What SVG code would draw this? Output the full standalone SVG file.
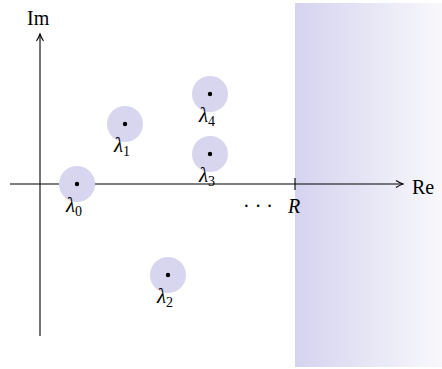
<svg xmlns="http://www.w3.org/2000/svg" width="442" height="369" viewBox="0 0 442 369">
<defs>
<linearGradient id="g" x1="0" y1="0" x2="1" y2="0">
<stop offset="0" stop-color="#d5d3ef"/>
<stop offset="1" stop-color="#f8f8fc"/>
</linearGradient>
<marker id="arr" markerWidth="10" markerHeight="10" refX="8" refY="5" orient="auto" markerUnits="userSpaceOnUse">
<path d="M1,1.5 Q5,4 8,5 Q5,6 1,8.5" fill="none" stroke="#000" stroke-width="1.1"/>
</marker>
</defs>
<rect x="295" y="3" width="147" height="364" fill="url(#g)"/>
<g id="connectors">
<line x1="10" y1="184" x2="403" y2="184" stroke="#000" stroke-width="1.1" marker-end="url(#arr)"/>
<line x1="40" y1="336" x2="40" y2="34" stroke="#000" stroke-width="1.1" marker-end="url(#arr)"/>
<line x1="295" y1="178" x2="295" y2="190" stroke="#000" stroke-width="1.1"/>
</g>
<g id="labels">
<text x="27" y="25" font-family="Liberation Serif, serif" font-size="20">Im</text>
<text x="412" y="194" font-family="Liberation Serif, serif" font-size="20">Re</text>
<text x="288" y="213" font-family="Liberation Serif, serif" font-size="20" font-style="italic">R</text>
<text x="243" y="213" font-family="Liberation Serif, serif" font-size="20">· · ·</text>
</g>
<g id="lambda0"><circle fill="#d8d6ef" cx="77" cy="184" r="18"/><circle cx="77" cy="184" r="2.2"/><text x="66" y="212" font-family="Liberation Serif, serif" font-size="21" font-style="italic">λ<tspan font-size="14" font-style="normal" dy="4">0</tspan></text></g>
<g id="lambda1"><circle fill="#d8d6ef" cx="125" cy="124" r="18"/><circle cx="125" cy="124" r="2.2"/><text x="114" y="152" font-family="Liberation Serif, serif" font-size="21" font-style="italic">λ<tspan font-size="14" font-style="normal" dy="4">1</tspan></text></g>
<g id="lambda2"><circle fill="#d8d6ef" cx="168" cy="275" r="18"/><circle cx="168" cy="275" r="2.2"/><text x="157" y="303" font-family="Liberation Serif, serif" font-size="21" font-style="italic">λ<tspan font-size="14" font-style="normal" dy="4">2</tspan></text></g>
<g id="lambda3"><circle fill="#d8d6ef" cx="210" cy="154" r="18"/><circle cx="210" cy="154" r="2.2"/><text x="199" y="182" font-family="Liberation Serif, serif" font-size="21" font-style="italic">λ<tspan font-size="14" font-style="normal" dy="4">3</tspan></text></g>
<g id="lambda4"><circle fill="#d8d6ef" cx="210" cy="94" r="18"/><circle cx="210" cy="94" r="2.2"/><text x="199" y="122" font-family="Liberation Serif, serif" font-size="21" font-style="italic">λ<tspan font-size="14" font-style="normal" dy="4">4</tspan></text></g>
</svg>
